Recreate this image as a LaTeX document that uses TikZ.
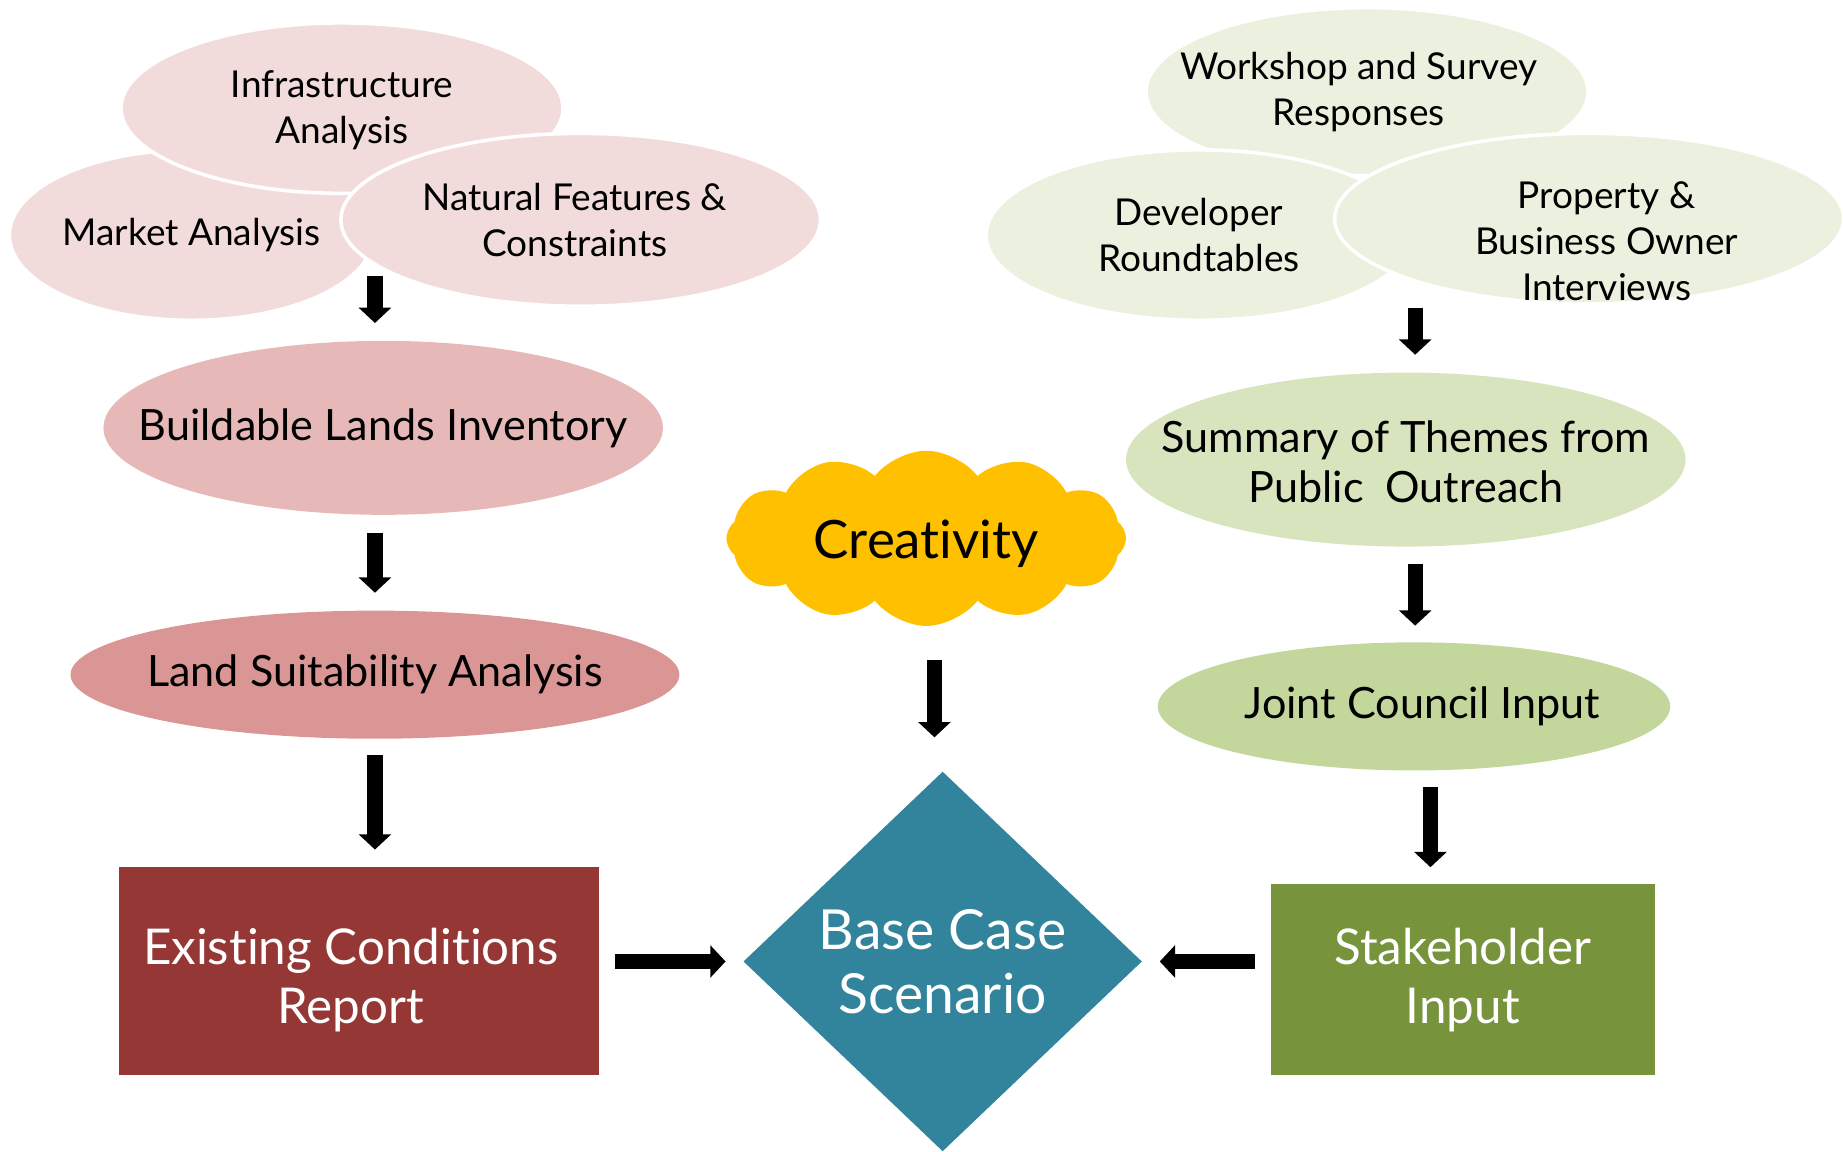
\documentclass[tikz,border=0pt]{standalone}
\usepackage{fontspec}
\setmainfont{Lato}[Ligatures=NoCommon]
\usetikzlibrary{arrows.meta,shapes.geometric,shapes.symbols}

\definecolor{rosepale}{HTML}{F2DCDB}
\definecolor{rosemid}{HTML}{E6B9B8}
\definecolor{rosedeep}{HTML}{D99694}
\definecolor{brickred}{HTML}{953735}
\definecolor{sagepale}{HTML}{EBF1DE}
\definecolor{sagemid}{HTML}{D7E4BD}
\definecolor{sagedeep}{HTML}{C3D69B}
\definecolor{olivegreen}{HTML}{77933C}
\definecolor{tealblue}{HTML}{31849B}
\definecolor{amber}{HTML}{FFC000}
\newcommand{\fsz}[2]{\fontsize{#1}{#2}\selectfont}

\begin{document}
\begin{tikzpicture}[x=1pt, y=-1pt,
  bubble/.style={ellipse, draw=white, line width=3pt, inner sep=0pt},
  bubbletext/.style={font=\fsz{31.5}{39}, align=center},
  stage/.style={ellipse, inner sep=0pt},
  stagetext/.style={font=\fsz{36.7}{43}, align=center},
  result/.style={rectangle, inner sep=0pt},
  resulttext/.style={font=\fsz{42}{50}, align=center, text=white},
  arr/.style={-{Triangle[length=13pt, width=27pt]}, line width=13pt}]

\useasboundingbox (0,0) rectangle (1568,980);

% ---------- Existing conditions ----------
\node[bubble, fill=rosepale, minimum width=310pt, minimum height=145pt,
      label={[bubbletext]center:Market Analysis}] (l-mkt) at (163,200) {};
\node[bubble, fill=rosepale, minimum width=376pt, minimum height=145pt,
      label={[bubbletext, yshift=-2pt]center:Infrastructure\\Analysis}] (l-inf) at (291,92) {};
\node[bubble, fill=rosepale, minimum width=408pt, minimum height=147pt,
      label={[bubbletext, xshift=-5pt]center:Natural Features \&\\Constraints}] (l-nat) at (494,187) {};
\node[stage, fill=rosemid, minimum width=476pt, minimum height=148pt,
      label={[stagetext]center:Buildable Lands Inventory}] (l-bli) at (326,364) {};
\node[stage, fill=rosedeep, minimum width=518pt, minimum height=109pt,
      label={[stagetext]center:Land Suitability Analysis}] (l-lsa) at (319,574) {};
\node[result, fill=brickred, minimum width=409pt, minimum height=177pt,
      label={[resulttext, xshift=-7pt, yshift=-7pt]center:Existing Conditions\\Report}] (l-ecr) at (305.5,826.5) {};

% ---------- Public outreach ----------
\node[bubble, fill=sagepale, minimum width=376pt, minimum height=143pt,
      label={[bubbletext, xshift=-7pt]center:Workshop and Survey\\Responses}] (r-wks) at (1163,78) {};
\node[bubble, fill=sagepale, minimum width=362pt, minimum height=145pt,
      label={[bubbletext]center:Developer\\Roundtables}] (r-dev) at (1020,200) {};
\node[bubble, fill=sagepale, minimum width=433pt, minimum height=145pt,
      label={[bubbletext, xshift=15pt, yshift=-19pt]center:Property \&\\Business Owner\\Interviews}] (r-own) at (1352,186) {};
\node[stage, fill=sagemid, minimum width=476pt, minimum height=148pt,
      label={[stagetext, yshift=-2pt]center:Summary of Themes from\\Public~~Outreach}] (r-sum) at (1196,391) {};
\node[stage, fill=sagedeep, minimum width=436pt, minimum height=109pt,
      label={[stagetext, xshift=7pt]center:Joint Council Input}] (r-jci) at (1203,601) {};
\node[result, fill=olivegreen, minimum width=327pt, minimum height=163pt,
      label={[resulttext]center:Stakeholder\\Input}] (r-stk) at (1244.5,833.5) {};

% ---------- Centre ----------
\node[cloud, cloud puffs=12, cloud puff arc=105, cloud ignores aspect, fill=amber, inner sep=0pt,
      minimum width=340pt, minimum height=149pt,
      label={[font=\fsz{45}{54}, yshift=-5pt]center:Creativity}] (c-cre) at (788,458) {};
\node[diamond, fill=tealblue, inner sep=0pt, minimum width=339pt, minimum height=323pt,
      align=center, text=white, font=\fsz{47}{54}] (c-bcs) at (802,818) {Base Case\\Scenario};

% left column
\draw[arr] ([yshift=55pt]l-lsa.north |- l-bli.north) -- ([yshift=15pt]l-lsa.north |- l-bli.north);
\draw[arr] ([yshift=-15pt]l-lsa.north |- l-bli.south) -- ([yshift=15pt]l-lsa.north);
\draw[arr] ([yshift=-14pt]l-lsa.south) -- ([yshift=15pt]l-lsa.south |- l-ecr.north);
% right column
\draw[arr] ([xshift=8pt, yshift=55pt]r-sum.north) -- ([xshift=8pt, yshift=15pt]r-sum.north);
\draw[arr] ([xshift=8pt, yshift=-15pt]r-sum.south) -- ([xshift=8pt, yshift=14pt]r-sum.south |- r-jci.north);
\draw[arr] ([xshift=14pt, yshift=-14pt]r-jci.south) -- ([xshift=14pt, yshift=14pt]r-jci.south |- r-stk.north);
% into the scenario
\draw[arr] ([xshift=7pt, yshift=-29pt]c-cre.south) -- ([xshift=7pt, yshift=29pt]c-bcs.north -| c-cre.south);
\draw[arr] ([xshift=13pt]l-ecr.east |- c-bcs.west) -- ([xshift=-15pt]c-bcs.west);
\draw[arr] ([xshift=-13pt]r-stk.west |- c-bcs.east) -- ([xshift=15pt]c-bcs.east);
\end{tikzpicture}
\end{document}
